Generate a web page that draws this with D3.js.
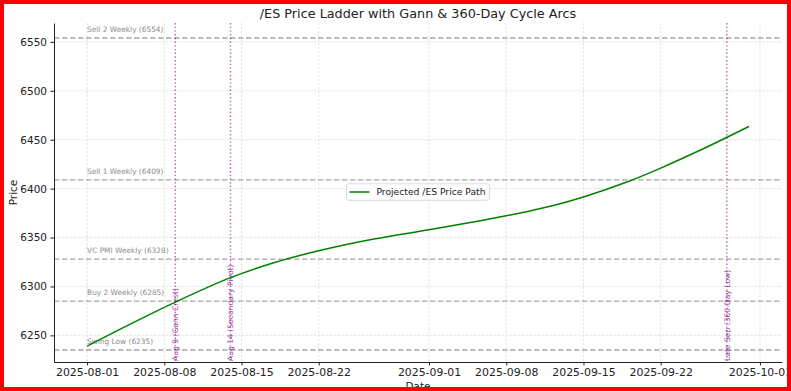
<!DOCTYPE html>
<html><head><meta charset="utf-8">
<script src="https://cdn.jsdelivr.net/npm/d3@7"></script>
<style>body{margin:0;background:#fff} svg{display:block} text{font-family:"DejaVu Sans",sans-serif}</style>
</head><body><svg id="c" width="791" height="391"></svg>
<script>
const pathDates = ["2025-08-01","2025-08-05","2025-08-09","2025-08-14","2025-08-18","2025-08-22","2025-08-27","2025-09-01","2025-09-05","2025-09-08","2025-09-12","2025-09-15","2025-09-19","2025-09-22","2025-09-26","2025-09-30"];
const pathValues = [6239,6262,6284,6309,6324.5,6336.5,6348.5,6358,6365.8,6372.2,6382,6391.5,6407,6421,6441.5,6463.5];
const levelNames = ["Sell 2 Weekly","Sell 1 Weekly","VC PMI Weekly","Buy 2 Weekly","Swing Low"];
const levelValues = [6554,6409,6328,6285,6235];
const cycleDates = ["2025-08-09","2025-08-14","2025-09-28"];
const cycleLabels = ["Aug 9 (Gann Crest)","Aug 14 (Secondary Pivot)","Late Sep (360-Day Low)"];
const xTickDates = ["2025-08-01","2025-08-08","2025-08-15","2025-08-22","2025-09-01","2025-09-08","2025-09-15","2025-09-22","2025-10-01"];
const yTickValues = [6250,6300,6350,6400,6450,6500,6550];
const titleText = "/ES Price Ladder with Gann & 360-Day Cycle Arcs";
const seriesName = "Projected /ES Price Path";
const xLabel = "Date", yLabel = "Price";

const parse = d3.utcParse("%Y-%m-%d");
const svg = d3.select("#c");
const L = 54, R = 782, T = 23, B = 362;

const d0 = parse(pathDates[0]), d1 = parse(pathDates[pathDates.length-1]);
const pad = (d1 - d0) * 0.05;
const x = d3.scaleUtc().domain([new Date(+d0 - pad), new Date(+d1 + pad)]).range([L, R]);
const y = d3.scaleLinear().domain([6222.8, 6569.3]).range([B, T]);

// grid
const grid = svg.append("g");
xTickDates.forEach(d => {
  grid.append("line").attr("x1", x(parse(d))).attr("x2", x(parse(d))).attr("y1", T).attr("y2", B)
    .attr("stroke", "#dcdcdc").attr("stroke-width", 0.8).attr("stroke-dasharray", "2.5,1.5");
});
yTickValues.forEach(v => {
  grid.append("line").attr("x1", L).attr("x2", R).attr("y1", y(v)).attr("y2", y(v))
    .attr("stroke", "#dcdcdc").attr("stroke-width", 0.8).attr("stroke-dasharray", "2.5,1.5");
});

// horizontal levels
levelValues.forEach((v, i) => {
  svg.append("line").attr("x1", L).attr("x2", R).attr("y1", y(v)).attr("y2", y(v))
    .attr("stroke", "#a6a6a6").attr("stroke-width", 1.4).attr("stroke-dasharray", "5.5,2.5");
  svg.append("text").attr("x", x(parse(pathDates[0]))).attr("y", y(v) - 6)
    .attr("font-size", 7.4).attr("fill", "#8c8c8c").text(`${levelNames[i]} (${levelValues[i]})`);
});

// cycle lines
cycleDates.forEach((d, i) => {
  const cx = x(parse(d));
  svg.append("line").attr("x1", cx).attr("x2", cx).attr("y1", T).attr("y2", B)
    .attr("stroke", "purple").attr("stroke-opacity", 0.6).attr("stroke-width", 1.4).attr("stroke-dasharray", "1.4,2.3");
  svg.append("text").attr("transform", `translate(${cx},${B - 1}) rotate(-90)`)
    .attr("dy", "0.35em").attr("font-size", 7.6).attr("fill", "purple").attr("fill-opacity", 0.8)
    .text(cycleLabels[i]);
});

// path
const pts = pathDates.map((d, i) => [parse(d), pathValues[i]]);
svg.append("path").datum(pts)
  .attr("d", d3.line().x(p => x(p[0])).y(p => y(p[1])).curve(d3.curveCatmullRom.alpha(0.5)))
  .attr("fill", "none").attr("stroke", "green").attr("stroke-width", 1.5);

// axes
const xa = svg.append("g").attr("transform", `translate(0,${B})`)
  .call(d3.axisBottom(x).tickValues(xTickDates.map(parse)).tickFormat(d3.utcFormat("%Y-%m-%d"))
    .tickSizeInner(3.5).tickSizeOuter(0).tickPadding(3));
const ya = svg.append("g").attr("transform", `translate(${L},0)`)
  .call(d3.axisLeft(y).tickValues(yTickValues).tickFormat(d3.format("d"))
    .tickSizeInner(3.5).tickSizeOuter(0).tickPadding(3.5));
[xa, ya].forEach(a => {
  a.selectAll("text").attr("font-size", 10.5).attr("fill", "#222").attr("font-family", "DejaVu Sans");
  a.selectAll("line").attr("stroke", "#222");
  a.select(".domain").attr("stroke", "#222").attr("stroke-width", 1);
});
xa.selectAll("text").attr("font-size", 10.9);

// labels
svg.append("text").attr("x", (L + R) / 2).attr("y", 17.5).attr("text-anchor", "middle")
  .attr("font-size", 12.8).attr("fill", "#222").text(titleText);
svg.append("text").attr("x", (L + R) / 2).attr("y", 390).attr("text-anchor", "middle")
  .attr("font-size", 10.5).attr("fill", "#222").text(xLabel);
svg.append("text").attr("transform", `translate(17,${(T + B) / 2}) rotate(-90)`).attr("text-anchor", "middle")
  .attr("font-size", 10.5).attr("fill", "#222").text(yLabel);

// legend
const lg = svg.append("g");
const lbox = lg.append("rect");
const lt = lg.append("text").attr("font-size", 9.2).attr("fill", "#222").text(seriesName);
const tw = lt.node().getComputedTextLength();
const lw = 3 + 20 + 7 + tw + 4, lh = 16.5;
const lx = (L + R) / 2 - lw / 2, ly = (T + B) / 2 - lh / 2 - 0.5;
lbox.attr("x", lx).attr("y", ly).attr("width", lw).attr("height", lh).attr("rx", 2)
  .attr("fill", "white").attr("fill-opacity", 0.85).attr("stroke", "#d0d0d0").attr("stroke-width", 0.8);
lg.append("line").attr("x1", lx + 3).attr("x2", lx + 23).attr("y1", ly + lh / 2).attr("y2", ly + lh / 2)
  .attr("stroke", "green").attr("stroke-width", 1.5);
lt.attr("x", lx + 30).attr("y", ly + lh / 2).attr("dy", "0.35em");

// red frame
svg.append("rect").attr("x", 2).attr("y", 2).attr("width", 787).attr("height", 387)
  .attr("fill", "none").attr("stroke", "#ff0000").attr("stroke-width", 4);
</script></body></html>
